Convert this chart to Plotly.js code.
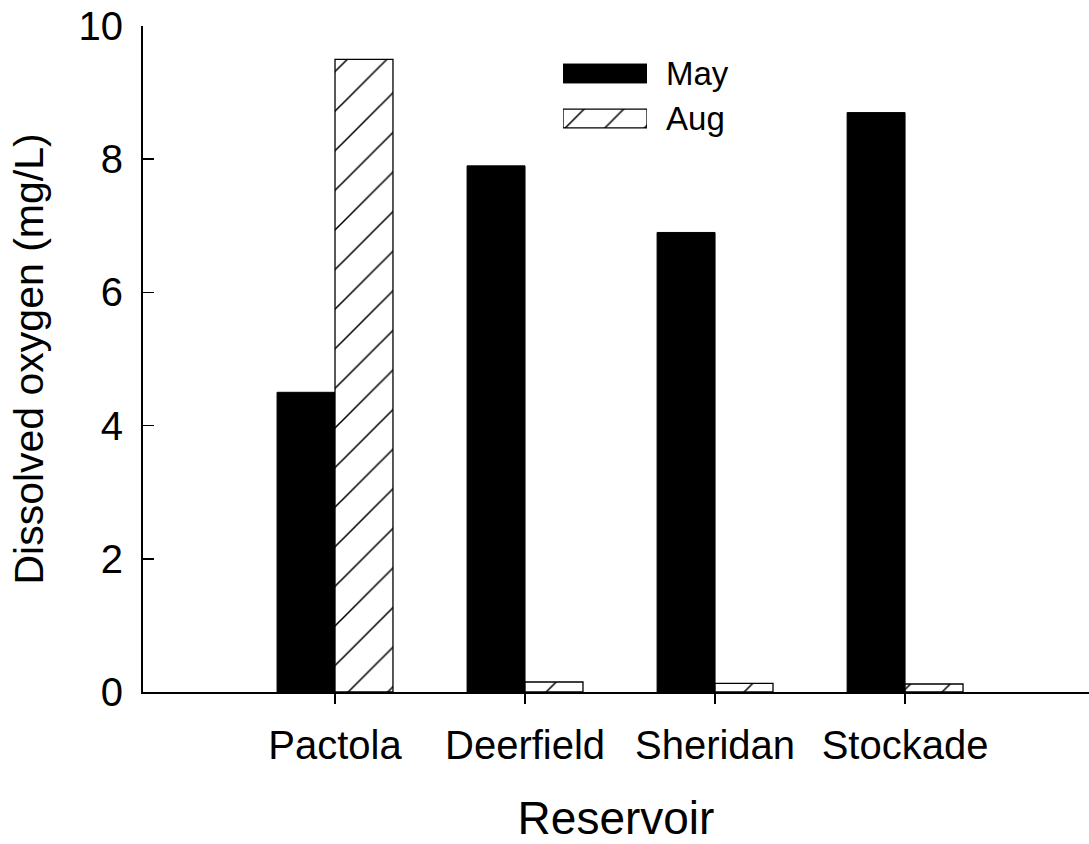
<!DOCTYPE html>
<html>
<head>
<meta charset="utf-8">
<script src="https://cdn.plot.ly/plotly-3.0.1.min.js"></script>
<style>
  html, body { margin: 0; padding: 0; background: #ffffff; }
  #chart { width: 1089px; height: 844px; }
</style>
</head>
<body>
<div id="chart"></div>
<script>
// Dissolved oxygen by reservoir, May vs August
const reservoirs = ['Pactola', 'Deerfield', 'Sheridan', 'Stockade'];
const seriesNames = ['May', 'Aug'];
const mayValues = [4.5, 7.9, 6.9, 8.7];
const augValues = [9.5, 0.15, 0.13, 0.12];
const yTickValues = [0, 2, 4, 6, 8, 10];

const FONT = 'Liberation Sans, Arial, Helvetica, sans-serif';
const hatch = { shape: '/', fgcolor: '#000000', bgcolor: '#ffffff', size: 28, solidity: 0.055 };
const solidMarker = { color: '#000000', line: { color: '#000000', width: 1 } };
const hatchMarker = { color: '#ffffff', pattern: hatch, line: { color: '#000000', width: 1.3 } };

// one key swatch per series, labelled by a small category axis on its right
function keySwatch(name, marker) {
  return {
    type: 'bar', orientation: 'h', x: [1], y: [name],
    width: 0.42, offset: -0.21, xaxis: 'x2', yaxis: 'y2',
    showlegend: false, hoverinfo: 'skip', marker: marker
  };
}

const traces = [
  { type: 'bar', name: seriesNames[0], x: reservoirs, y: mayValues, marker: solidMarker, showlegend: false },
  { type: 'bar', name: seriesNames[1], x: reservoirs, y: augValues, marker: hatchMarker, showlegend: false },
  keySwatch(seriesNames[0], solidMarker),
  keySwatch(seriesNames[1], hatchMarker)
];

const layout = {
  width: 1089, height: 844,
  margin: { l: 143, r: 0, t: 26, b: 152 },
  paper_bgcolor: '#ffffff', plot_bgcolor: '#ffffff',
  font: { family: FONT, color: '#000000' },
  barmode: 'group', bargap: 0.39, bargroupgap: 0,
  showlegend: false,
  xaxis: {
    type: 'category', range: [-1.0105, 3.968],
    showline: true, linecolor: '#000000', linewidth: 2,
    ticks: 'outside', ticklen: 10, tickwidth: 1.5, tickcolor: '#000000',
    tickfont: { size: 40, family: FONT }, ticklabelstandoff: 7,
    showgrid: false, zeroline: false,
    title: { text: 'Reservoir', font: { size: 46, family: FONT }, standoff: 42 }
  },
  yaxis: {
    range: [0, 10], tickvals: yTickValues,
    showline: true, linecolor: '#000000', linewidth: 2,
    ticks: 'inside', ticklen: 11, tickwidth: 1.5, tickcolor: '#000000',
    tickfont: { size: 40, family: FONT }, ticklabelstandoff: 10,
    showgrid: false, zeroline: false,
    title: { text: 'Dissolved oxygen (mg/L)', font: { size: 41, family: FONT }, standoff: 22 }
  },
  xaxis2: {
    domain: [0.444, 0.5328], anchor: 'y2', range: [0, 1],
    visible: false, fixedrange: true
  },
  yaxis2: {
    domain: [0.8273, 0.9625], anchor: 'x2', side: 'right',
    type: 'category', range: [1.5, -0.5],
    showline: false, ticks: '', showgrid: false, zeroline: false,
    tickfont: { size: 33, family: FONT }, ticklabelstandoff: 18, fixedrange: true
  }
};

Plotly.newPlot('chart', traces, layout, { displayModeBar: false, staticPlot: true });
</script>
</body>
</html>
